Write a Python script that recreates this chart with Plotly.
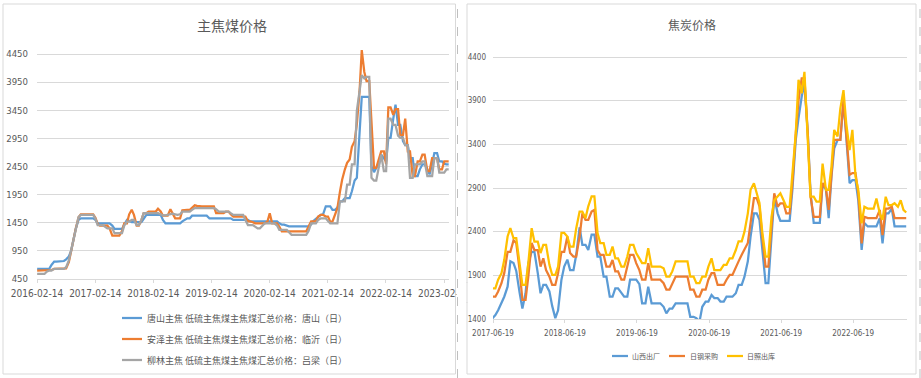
import pandas as pd
import plotly.graph_objects as go

W, H = 921, 378

# ---------------- 主焦煤价格 (left) : semi-monthly dates ----------------
coal_dates = pd.date_range('2016-02-15', '2023-03-15', freq='SMS')

tangshan = [  # 唐山
    630, 630, 630, 630, 630, 630, 700, 760, 760, 760, 760, 770, 800, 850, 950, 1150, 1350, 1500, 1530, 1530, 1530,
    1530, 1530, 1530, 1500, 1440, 1440, 1440, 1440, 1440, 1440, 1400, 1340, 1340, 1340, 1340, 1420, 1500, 1480, 1460, 1460, 1460, 1460, 1460, 1520,
    1590, 1590, 1590, 1590, 1590, 1590, 1590, 1500, 1440, 1440, 1440, 1440, 1440, 1440, 1440, 1475, 1500, 1530, 1530, 1575, 1575, 1575, 1575, 1575,
    1575, 1575, 1530, 1530, 1530, 1530, 1530, 1530, 1530, 1530, 1530, 1530, 1500, 1500, 1500, 1500, 1500, 1500, 1500, 1475, 1475, 1475, 1475, 1475,
    1475, 1475, 1475, 1475, 1475, 1475, 1475, 1440, 1415, 1415, 1400, 1385, 1385, 1385, 1385, 1385, 1385, 1385, 1385, 1385, 1420, 1480, 1520, 1560,
    1590, 1600, 1740, 1740, 1740, 1680, 1680, 1720, 1830, 1830, 1890, 1890, 1890, 2010, 2200, 2250, 3140, 3690, 3690, 3690, 3690, 2450, 2350, 2425,
    2500, 2660, 2600, 2540, 2960, 2960, 3300, 3550, 3190, 3190, 2900, 2830, 2830, 2600, 2600, 2280, 2280, 2400, 2490, 2490, 2400, 2310, 2500, 2690,
    2690, 2540, 2540, 2500, 2490, 2490,
]
anze = [  # 安泽 (临沂)
    600, 600, 600, 600, 600, 600, 610, 630, 630, 630, 630, 630, 640, 750, 950, 1150, 1350, 1550, 1600, 1600, 1600,
    1600, 1600, 1600, 1540, 1430, 1400, 1400, 1400, 1400, 1350, 1220, 1220, 1220, 1220, 1300, 1440, 1440, 1600, 1680, 1590, 1400, 1400, 1500, 1620,
    1620, 1650, 1650, 1650, 1650, 1700, 1650, 1575, 1575, 1575, 1690, 1600, 1530, 1530, 1530, 1670, 1680, 1680, 1680, 1720, 1760, 1750, 1740, 1740,
    1740, 1740, 1740, 1740, 1740, 1620, 1620, 1620, 1620, 1650, 1650, 1600, 1560, 1560, 1560, 1560, 1560, 1560, 1475, 1475, 1460, 1440, 1440, 1440,
    1440, 1440, 1475, 1620, 1440, 1440, 1440, 1380, 1295, 1295, 1295, 1295, 1295, 1295, 1295, 1295, 1295, 1295, 1295, 1380, 1475, 1475, 1475, 1560,
    1590, 1590, 1560, 1560, 1470, 1470, 1600, 1710, 2000, 2220, 2400, 2515, 2575, 2800, 2900, 3200, 3780, 4520, 4130, 3970, 3970, 3140, 2425, 2425,
    2600, 2720, 2720, 2490, 3500, 3500, 3370, 3470, 3470, 3010, 3010, 3300, 2720, 2720, 2280, 2280, 2540, 2540, 2660, 2660, 2370, 2370, 2600, 2600,
    2600, 2400, 2400, 2540, 2540, 2540,
]
liulin = [  # 柳林 (吕梁)
    540, 540, 540, 540, 580, 600, 600, 630, 630, 630, 630, 630, 660, 780, 950, 1150, 1350, 1550, 1590, 1590, 1590,
    1590, 1590, 1590, 1520, 1410, 1410, 1410, 1380, 1350, 1350, 1350, 1265, 1265, 1265, 1265, 1400, 1470, 1470, 1500, 1500, 1410, 1410, 1500, 1620,
    1620, 1620, 1620, 1620, 1620, 1620, 1600, 1580, 1580, 1590, 1600, 1610, 1600, 1590, 1600, 1650, 1650, 1650, 1650, 1680, 1710, 1710, 1710, 1710,
    1710, 1710, 1710, 1710, 1710, 1690, 1650, 1650, 1650, 1650, 1650, 1620, 1590, 1590, 1590, 1590, 1590, 1500, 1410, 1410, 1410, 1380, 1350, 1350,
    1400, 1440, 1440, 1440, 1440, 1440, 1400, 1325, 1325, 1325, 1325, 1280, 1235, 1235, 1235, 1235, 1235, 1235, 1235, 1300, 1440, 1440, 1440, 1500,
    1530, 1530, 1530, 1480, 1440, 1440, 1440, 1440, 1830, 1830, 1830, 2130, 2130, 2490, 2490, 3440, 3800, 4075, 4015, 4045, 4045, 2250, 2200, 2200,
    2450, 2660, 2370, 2370, 3300, 3300, 3190, 3190, 3000, 2960, 2960, 2830, 2830, 2250, 2250, 2490, 2490, 2490, 2540, 2540, 2280, 2280, 2280, 2600,
    2600, 2340, 2340, 2340, 2400, 2400,
]
coal_names = ['唐山主焦 低硫主焦煤主焦煤汇总价格：唐山（日）',
              '安泽主焦 低硫主焦煤主焦煤汇总价格：临沂（日）',
              '柳林主焦 低硫主焦煤主焦煤汇总价格：吕梁（日）']
coal_ticks = ['2016-02-14', '2017-02-14', '2018-02-14', '2019-02-14',
              '2020-02-14', '2021-02-14', '2022-02-14', '2023-02-14']
coal_yticks = [450, 950, 1450, 1950, 2450, 2950, 3450, 3950, 4450]

# ---------------- 焦炭价格 (right) : semi-monthly dates ----------------
coke_dates = pd.date_range('2017-06-15', '2023-03-15', freq='SMS')

shanxi = [  # 山西出厂
    1405, 1445, 1500, 1580, 1655, 1770, 2060, 2040, 1950, 1700, 1520, 1695, 2040,
    2170, 2170, 1925, 1695, 1790, 1790, 1715, 1550, 1410, 1500, 1850, 2000, 2080, 1960, 1960, 2135, 2450, 2250, 2250, 2190, 2365, 2365, 2115, 2115,
    1885, 1885, 1655, 1655, 1750, 1750, 1700, 1655, 1655, 1850, 1850, 1850, 1800, 1580, 1580, 1770, 1580, 1580, 1580, 1580, 1540, 1465, 1520, 1520,
    1580, 1580, 1580, 1580, 1580, 1425, 1425, 1410, 1370, 1540, 1600, 1600, 1675, 1640, 1640, 1600, 1600, 1655, 1655, 1655, 1695, 1790, 1790, 1885,
    2060, 2345, 2610, 2610, 2535, 2230, 1810, 1810, 2340, 2800, 2610, 2525, 2525, 2525, 2525, 2880, 3450, 3700, 3945, 4100, 3525, 2840, 2500, 2500,
    2500, 2955, 2880, 2555, 3030, 3355, 3450, 3450, 3890, 3490, 2955, 2990, 2990, 2760, 2190, 2500, 2460, 2460, 2460, 2460, 2555, 2265, 2610, 2610,
    2665, 2460, 2460, 2460, 2460, 2460,
]
rigang = [  # 日钢采购
    1655, 1655, 1715, 1810, 1925, 2170, 2170, 2300, 2270, 1960, 1620, 1620, 1885,
    2270, 2190, 2190, 2000, 2095, 1960, 1885, 1790, 1790, 1925, 2170, 2170, 2345, 2155, 2115, 2115, 2345, 2610, 2535, 2535, 2630, 2650, 2190, 2135,
    2135, 2000, 2000, 2075, 1945, 1945, 1850, 1850, 2000, 2135, 2135, 2040, 1960, 1850, 1850, 2040, 1850, 1850, 1850, 1850, 1810, 1735, 1735, 1810,
    1885, 1885, 1885, 1885, 1885, 1735, 1735, 1655, 1655, 1735, 1735, 1850, 1925, 1925, 1790, 1790, 1790, 1850, 1905, 1905, 1980, 2060, 2135, 2200,
    2270, 2500, 2785, 2785, 2690, 2345, 2000, 2000, 2400, 2840, 2685, 2725, 2725, 2610, 2610, 2955, 3525, 3900, 4155, 4155, 3525, 2800, 2570, 2570,
    2570, 2955, 2895, 2650, 3050, 3450, 3450, 3450, 3910, 3525, 3050, 3070, 3070, 2840, 2265, 2570, 2555, 2555, 2555, 2555, 2650, 2360, 2665, 2665,
    2685, 2555, 2555, 2555, 2555, 2555,
]
rizhao = [  # 日照出库
    1750, 1750, 1850, 1925, 2075, 2345, 2440, 2325, 2325, 2060, 1790, 1790, 2040,
    2440, 2285, 2285, 2155, 2250, 2250, 2020, 1905, 1905, 2000, 2385, 2385, 2345, 2230, 2230, 2440, 2630, 2630, 2555, 2690, 2805, 2805, 2385, 2270,
    2270, 2135, 2135, 2230, 2095, 2095, 2000, 2000, 2115, 2250, 2250, 2155, 2095, 2040, 2040, 2210, 2000, 2000, 2000, 2000, 1980, 1885, 1885, 1945,
    2060, 2060, 2060, 2060, 2060, 1885, 1885, 1810, 1810, 1885, 1885, 2000, 2095, 1960, 1960, 1960, 2020, 2020, 2095, 2095, 2190, 2290, 2290, 2400,
    2610, 2880, 2955, 2840, 2730, 2400, 2115, 2115, 2570, 2760, 2800, 2840, 2760, 2685, 2685, 3030, 3525, 4140, 3985, 4230, 3490, 2800, 2800, 2745,
    2745, 3180, 2880, 2880, 3145, 3565, 3490, 3810, 4020, 3640, 3335, 3565, 3030, 2880, 2495, 2685, 2665, 2665, 2665, 2780, 2610, 2535, 2800, 2705,
    2705, 2725, 2685, 2760, 2650, 2620,
]
coke_names = ['山西出厂', '日钢采购', '日照出库']
coke_ticks = ['2017-06-19', '2018-06-19', '2019-06-19', '2020-06-19', '2021-06-19', '2022-06-19']
coke_yticks = [1400, 1900, 2400, 2900, 3400, 3900, 4400]

for s in (tangshan, anze, liulin):
    assert len(s) == len(coal_dates), (len(s), len(coal_dates))
for s in (shanxi, rigang, rizhao):
    assert len(s) == len(coke_dates), (len(s), len(coke_dates))

# ---------------- styling ----------------
BLUE, ORANGE, GRAY, YELLOW = '#5B9BD5', '#ED7D31', '#A5A5A5', '#FFC000'
TXT = '#595959'
GRID = '#d9d9d9'
CJK = 'Noto Sans CJK SC'
NUM = 'Liberation Sans Narrow, DejaVu Sans Condensed, Liberation Sans, sans-serif'
LW = 2.25

def fx(px):
    return px / W

def fy(py):
    return 1 - py / H

fig = go.Figure()
for vals, name, col in zip((tangshan, anze, liulin), coal_names, (BLUE, ORANGE, GRAY)):
    fig.add_trace(go.Scatter(x=coal_dates, y=vals, name=name, mode='lines',
                             line=dict(color=col, width=LW), xaxis='x', yaxis='y',
                             showlegend=False, hoverinfo='skip'))
for vals, name, col in zip((shanxi, rigang, rizhao), coke_names, (BLUE, ORANGE, YELLOW)):
    fig.add_trace(go.Scatter(x=coke_dates, y=vals, name=name, mode='lines',
                             line=dict(color=col, width=LW), xaxis='x2', yaxis='y2',
                             showlegend=False, hoverinfo='skip'))

L_X0, L_X1, L_YB, L_YT = 37, 449, 279, 48
l_ymax = 450 + (L_YB - L_YT) * 4000 / 225
R_X0, R_X1, R_YB, R_YT = 493, 907, 319, 52
r_ymax = 1400 + (R_YB - R_YT) * 3000 / 262

fig.update_layout(
    width=W, height=H, margin=dict(l=0, r=0, t=0, b=0, pad=0, autoexpand=False),
    paper_bgcolor='white', plot_bgcolor='white',
    font=dict(family=CJK, color=TXT),
    showlegend=False,
    xaxis=dict(domain=[fx(L_X0), fx(L_X1)], anchor='y', type='date', automargin=False,
               range=['2016-02-14', '2023-03-17'], tickmode='array',
               tickvals=coal_ticks, ticktext=coal_ticks,
               showline=True, linecolor=GRID, linewidth=1,
               ticks='outside', ticklen=3, tickcolor=GRID,
               ticklabelstandoff=2, showgrid=False, zeroline=False,
               tickfont=dict(family=NUM, size=10, color=TXT)),
    yaxis=dict(domain=[fy(L_YB), fy(L_YT)], anchor='x', range=[450, l_ymax], automargin=False,
               tickmode='array', tickvals=coal_yticks,
               showgrid=True, gridcolor=GRID, gridwidth=1, zeroline=False,
               showline=False, ticks='', ticklabelstandoff=8,
               tickfont=dict(family=NUM, size=9.5, color=TXT)),
    xaxis2=dict(domain=[fx(R_X0), fx(R_X1)], anchor='y2', type='date', automargin=False,
                range=['2017-06-19', '2023-03-19'], tickmode='array',
                tickvals=coke_ticks, ticktext=coke_ticks,
                showline=True, linecolor=GRID, linewidth=1,
                ticks='outside', ticklen=3, tickcolor=GRID,
                ticklabelstandoff=3, showgrid=False, zeroline=False,
                tickfont=dict(family=NUM, size=8, color=TXT)),
    yaxis2=dict(domain=[fy(R_YB), fy(R_YT)], anchor='x2', range=[1400, r_ymax], automargin=False,
                tickmode='array', tickvals=coke_yticks,
                showgrid=True, gridcolor=GRID, gridwidth=1, zeroline=False,
                showline=False, ticks='', ticklabelstandoff=6,
                tickfont=dict(family=NUM, size=8, color=TXT)),
)

shapes = []
shapes.append(dict(type='rect', xref='paper', yref='paper', x0=fx(3), x1=fx(455.5),
                   y0=fy(374), y1=fy(4), line=dict(color=GRID, width=1), layer='below'))
shapes.append(dict(type='rect', xref='paper', yref='paper', x0=fx(467), x1=fx(916),
                   y0=fy(374), y1=fy(4), line=dict(color=GRID, width=1), layer='below'))
# hide the part of the last left tick label that runs past the panel
shapes.append(dict(type='rect', xref='paper', yref='paper', x0=fx(456.5), x1=fx(471),
                   y0=fy(302), y1=fy(283), fillcolor='white', line=dict(width=0), layer='above'))
shapes.append(dict(type='line', xref='paper', yref='paper', x0=fx(467), x1=fx(467),
                   y0=fy(303), y1=fy(282), line=dict(color=GRID, width=1), layer='above'))
for xp in (457.5, 920):
    shapes.append(dict(type='line', xref='paper', yref='paper', x0=fx(xp), x1=fx(xp),
                       y0=0, y1=1, line=dict(color='#bfbfbf', width=1, dash='dash'), layer='above'))

annotations = [
    dict(text='主焦煤价格', x=fx(232), y=fy(25), xref='paper', yref='paper',
         showarrow=False, xanchor='center', yanchor='middle',
         font=dict(family=CJK, size=14, color=TXT)),
    dict(text='焦炭价格', x=fx(692), y=fy(24), xref='paper', yref='paper',
         showarrow=False, xanchor='center', yanchor='middle',
         font=dict(family=CJK, size=12, color=TXT)),
]

for i, (name, col) in enumerate(zip(coal_names, (BLUE, ORANGE, GRAY))):
    yy = 318 + i * 21
    shapes.append(dict(type='line', xref='paper', yref='paper', x0=fx(122), x1=fx(142),
                       y0=fy(yy), y1=fy(yy), line=dict(color=col, width=LW)))
    annotations.append(dict(text=name, x=fx(145), y=fy(yy), xref='paper', yref='paper',
                            showarrow=False, xanchor='left', yanchor='middle',
                            font=dict(family=CJK, size=9, color=TXT)))

for (lx0, tx), name, col in zip(((612, 630), (669, 688), (727, 745)), coke_names, (BLUE, ORANGE, YELLOW)):
    yy = 356
    shapes.append(dict(type='line', xref='paper', yref='paper', x0=fx(lx0), x1=fx(lx0 + 16),
                       y0=fy(yy), y1=fy(yy), line=dict(color=col, width=LW)))
    annotations.append(dict(text=name, x=fx(tx), y=fy(yy), xref='paper', yref='paper',
                            showarrow=False, xanchor='left', yanchor='middle',
                            font=dict(family=CJK, size=7, color=TXT)))

fig.update_layout(shapes=shapes, annotations=annotations)
fig.write_html('out.html', config={'displayModeBar': False},
               post_script="document.body.style.margin='0px';document.body.style.padding='0px';")
